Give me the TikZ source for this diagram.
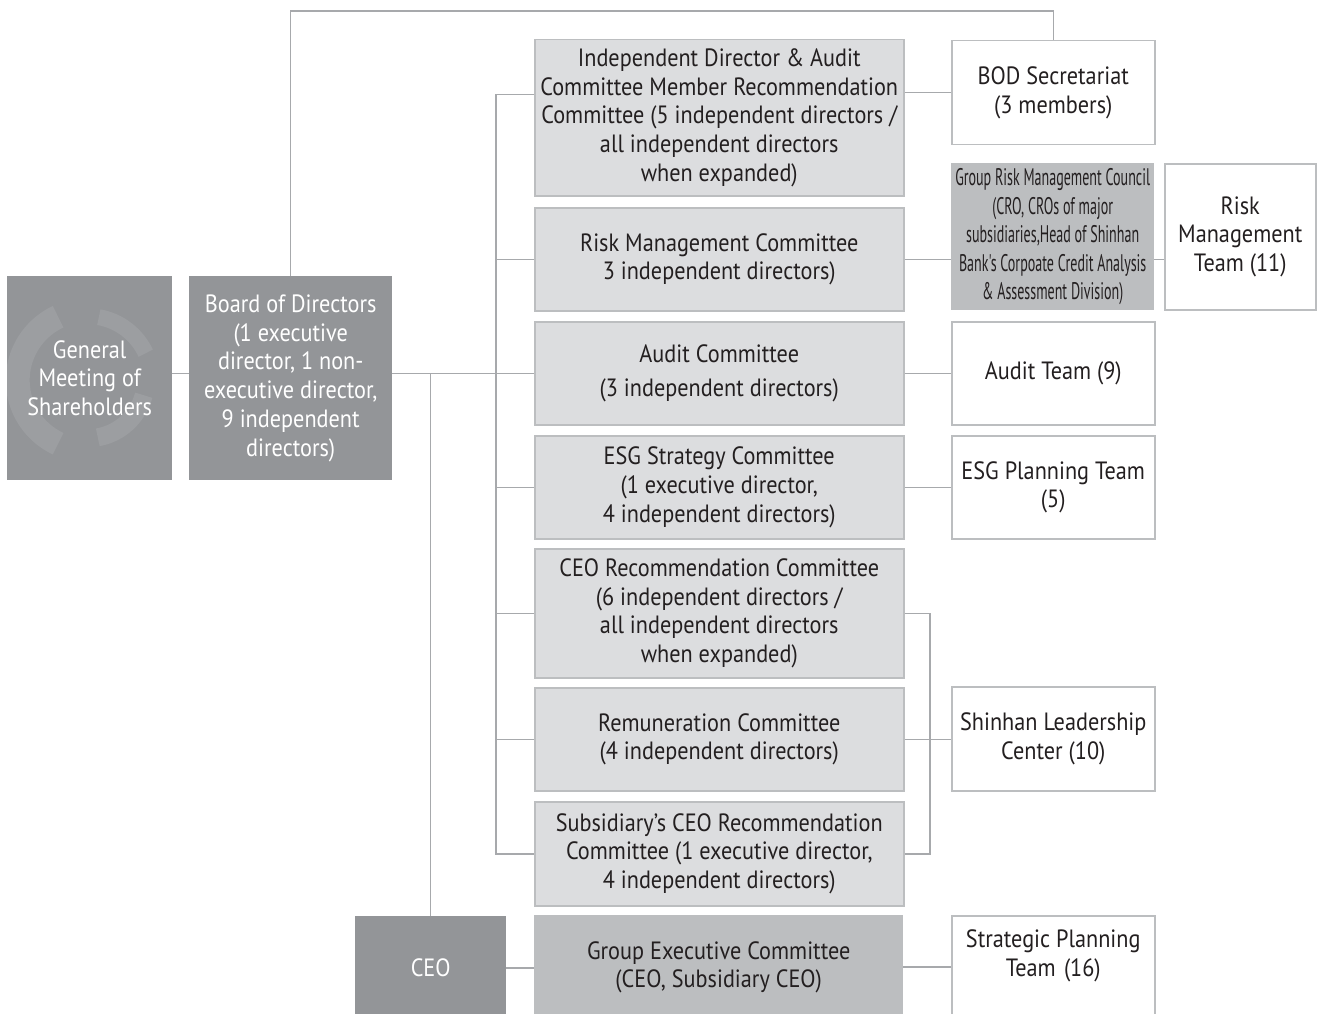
\documentclass[tikz,border=0pt]{standalone}
\usepackage{fontspec}
\setmainfont{PT Sans}[FakeStretch=0.89]
\newfontfamily\condfont[FakeStretch=0.585]{PT Sans}
\definecolor{dkgray}{HTML}{939598}
\definecolor{ltgray}{HTML}{DCDDDF}
\definecolor{midgray}{HTML}{BCBEC0}
\definecolor{bordergray}{HTML}{BCBEC0}
\definecolor{linegray}{HTML}{A7A9AC}
\definecolor{txt}{HTML}{231F20}
\definecolor{wmark}{HTML}{9C9EA1}
\begin{document}
\begin{tikzpicture}[x=1pt,y=-1pt,
  every node/.style={inner sep=0pt, align=center, font=\fontsize{25}{28.7}\selectfont},
  darkbox/.style={fill=dkgray, text=white, anchor=north west},
  commbox/.style={fill=ltgray, draw=bordergray, line width=1.5pt, text=txt, anchor=north west},
  midbox/.style={fill=midgray, text=txt, anchor=north west},
  whitebox/.style={fill=white, draw=bordergray, line width=1.5pt, text=txt, anchor=north west},
  conn/.style={draw=linegray, line width=1.5pt}]
\useasboundingbox (0,0) rectangle (1317,1014);
% left column
\node[darkbox, minimum width=165pt, minimum height=204pt,
  path picture={
    \draw[wmark, line width=24pt] (path picture bounding box.center) ++(-2,2) ++(115:70) arc[start angle=115, end angle=245, radius=70];
    \draw[wmark, line width=16pt] (path picture bounding box.center) ++(-2,2) ++(280:64) arc[start angle=280, end angle=335, radius=64];
    \draw[wmark, line width=18pt] (path picture bounding box.center) ++(-2,2) ++(15:58) arc[start angle=15, end angle=80, radius=58];
  }] (gms) at (7,276) {General\\Meeting of\\Shareholders};
\node[darkbox, minimum width=203pt, minimum height=204pt] (bod) at (189,276)
  {Board of Directors\\(1 executive\\director, 1 non-\\executive director,\\9 independent\\directors)};
\node[darkbox, minimum width=151pt, minimum height=104pt] (ceo) at (355,916) {CEO};
% committees
\node[commbox, minimum width=369pt, minimum height=156pt] (c1) at (534,39)
  {Independent Director \& Audit\\Committee Member Recommendation\\Committee (5 independent directors /\\all independent directors\\when expanded)};
\node[commbox, minimum width=369pt, minimum height=103pt] (c2) at (534,207)
  {Risk Management Committee\\3 independent directors)};
\node[commbox, minimum width=369pt, minimum height=103pt] (c3) at (534,321)
  {Audit Committee\\[5pt](3 independent directors)};
\node[commbox, minimum width=369pt, minimum height=103pt] (c4) at (534,435)
  {ESG Strategy Committee\\(1 executive director,\\4 independent directors)};
\node[commbox, minimum width=369pt, minimum height=129pt] (c5) at (534,548)
  {CEO Recommendation Committee\\(6 independent directors /\\all independent directors\\when expanded)};
\node[commbox, minimum width=369pt, minimum height=103pt] (c6) at (534,687)
  {Remuneration Committee\\(4 independent directors)};
\node[commbox, minimum width=369pt, minimum height=104pt] (c7) at (534,801)
  {Subsidiary's CEO Recommendation\\Committee (1 executive director,\\4 independent directors)};
\node[midbox, minimum width=369pt, minimum height=104pt] (ge) at (534,915)
  {Group Executive Committee\\(CEO, Subsidiary CEO)};
% right column
\node[whitebox, minimum width=203pt, minimum height=104pt] (bodsec) at (951,40)
  {BOD Secretariat\\(3 members)};
\node[midbox, minimum width=203pt, minimum height=147pt, font=\condfont\fontsize{24}{28.5}\selectfont] (grmc) at (951,163)
  {Group Risk Management Council\\(CRO, CROs of major\\subsidiaries,Head of Shinhan\\Bank's Corpoate Credit Analysis\\\& Assessment Division)};
\node[whitebox, minimum width=151pt, minimum height=146pt] (rmt) at (1164,163)
  {Risk\\Management\\Team (11)};
\node[whitebox, minimum width=203pt, minimum height=103pt] (auditteam) at (951,321)
  {Audit Team (9)};
\node[whitebox, minimum width=203pt, minimum height=103pt] (esgteam) at (951,435)
  {ESG Planning Team\\(5)};
\node[whitebox, minimum width=203pt, minimum height=104pt] (slc) at (951,686)
  {Shinhan Leadership\\Center (10)};
\node[whitebox, minimum width=203pt, minimum height=110pt] (spt) at (951,915)
  {Strategic Planning\\Team\,\,(16)\\[6pt]};
% helper coordinates
\coordinate (bus) at (496,0);
\coordinate (brk) at (930,0);
\coordinate (c1in) at ([yshift=23pt]c1.west);
% connectors
\draw[conn] (bod.north) |- ([yshift=29pt]bodsec.north) -- (bodsec.north);
\draw[conn] (gms.east |- c3.west) -- (bod.west |- c3.west);
\draw[conn] (bod.east |- c3.west) -- (c3.west);
\draw[conn] (ceo.north) -- (ceo.north |- c3.west);
\draw[conn] (c1in) -| (bus |- c7.west) -- (c7.west);
\draw[conn] (bus |- c2.west) -- (c2.west);
\draw[conn] (bus |- c4.west) -- (c4.west);
\draw[conn] (bus |- c5.west) -- (c5.west);
\draw[conn] (bus |- c6.west) -- (c6.west);
\draw[conn] (c1.east |- bodsec.west) -- (bodsec.west);
\draw[conn] (c2.east) -- (c2.east -| grmc.west);
\draw[conn] (grmc.east |- c2.east) -- (rmt.west |- c2.east);
\draw[conn] (c3.east) -- (c3.east -| auditteam.west);
\draw[conn] (c4.east) -- (c4.east -| esgteam.west);
\draw[conn] (c5.east) -| (brk |- c7.east) -- (c7.east);
\draw[conn] (c6.east) -- (c6.east -| slc.west);
\draw[conn] (ceo.east) -- (ceo.east -| ge.west);
\draw[conn] (ge.east) -- (ge.east -| spt.west);
\end{tikzpicture}
\end{document}
